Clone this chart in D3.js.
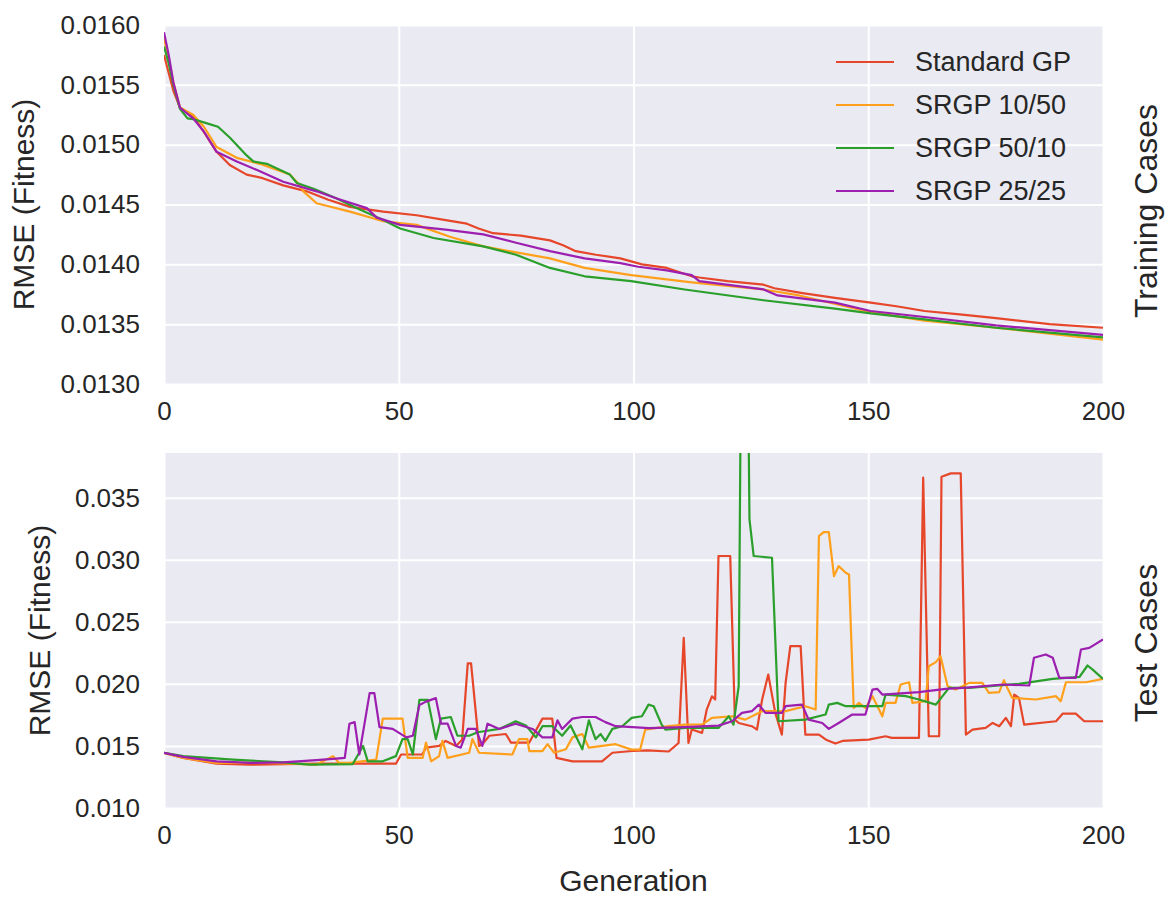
<!DOCTYPE html>
<html>
<head>
<meta charset="utf-8">
<script src="https://cdn.jsdelivr.net/npm/d3@7"></script>
<style>
  body { margin: 0; background: #fff; }
  svg text { font-family: "Liberation Sans", Arial, sans-serif; fill: #262626; }
</style>
</head>
<body>
<svg id="chart" width="1174" height="902"></svg>
<script>
// series, legend order
const seriesNames = ["Standard GP", "SRGP 10/50", "SRGP 50/10", "SRGP 25/25"];
const seriesColours = ["#e6462a", "#ffa01c", "#2b9f2b", "#9c1fb0"];

const generationTicks = [0, 50, 100, 150, 200];
const trainTicks = [0.0130, 0.0135, 0.0140, 0.0145, 0.0150, 0.0155, 0.0160];
const testTicks = [0.010, 0.015, 0.020, 0.025, 0.030, 0.035];

// training cases: [generation, rmse]
const trainStandard = [[0,0.01575],[1,0.01560],[2,0.01545],[3.4,0.01531],[6.2,0.01524],[8.4,0.01511],[11.2,0.01494],[14,0.01483],[17.6,0.01475],[21,0.01472],[25.4,0.01466],[30.4,0.01461],[35,0.01454],[39.6,0.01448],[46.7,0.01444],[53.8,0.01441],[60,0.01437],[64.5,0.01434],[67,0.01430],[70.1,0.01426],[76,0.01424],[82.2,0.01420],[85,0.01416],[87.7,0.01411],[92,0.01408],[97.2,0.01405],[101.8,0.01400],[107.1,0.01397],[112.4,0.01390],[114,0.01389],[120,0.01386],[127.7,0.01383],[130,0.01380],[136,0.01376],[142.9,0.01372],[150.5,0.01368],[156,0.01365],[162,0.01361],[170,0.01358],[177.2,0.01355],[188.6,0.01350],[200,0.01347]];
const trainSrgp1050 = [[0,0.01589],[1,0.01572],[2,0.01552],[3.4,0.01531],[6.2,0.01525],[8.5,0.01515],[11.2,0.01498],[15.5,0.01489],[20.4,0.01484],[26.8,0.01475],[28.5,0.01468],[29.7,0.01461],[32.5,0.01451],[39.6,0.01444],[46.7,0.01436],[53.8,0.01433],[60.9,0.01423],[68,0.01415],[75,0.01410],[82.2,0.01405],[89.6,0.01397],[99.5,0.01391],[112.4,0.01385],[127.7,0.01379],[135.3,0.01374],[150.5,0.01360],[162,0.01353],[177.2,0.01347],[200,0.01337]];
const trainSrgp5010 = [[0,0.01582],[1,0.01568],[2,0.01550],[3.4,0.01530],[5,0.01522],[6.5,0.01521],[9,0.01518],[11.5,0.01515],[14,0.01506],[17.6,0.01491],[19,0.01486],[21.9,0.01484],[26.8,0.01475],[28.3,0.01468],[32,0.01463],[36.8,0.01455],[41,0.01447],[46.7,0.01437],[50.3,0.01430],[57.4,0.01422],[68,0.01415],[75,0.01408],[82.2,0.01397],[89.6,0.01390],[99.5,0.01386],[110.9,0.01379],[127.7,0.01370],[142.9,0.01363],[150.5,0.01359],[162,0.01354],[177.2,0.01347],[200,0.01339]];
const trainSrgp2525 = [[0,0.01594],[1,0.01575],[2,0.01552],[3.4,0.01531],[6.2,0.01522],[8.5,0.01511],[11.2,0.01494],[15.5,0.01486],[19.7,0.01479],[25.4,0.01469],[32.5,0.01461],[36.8,0.01455],[43.2,0.01447],[45.3,0.01439],[50.3,0.01433],[60,0.01429],[68,0.01425],[75,0.01418],[82.2,0.01411],[89.6,0.01405],[97.2,0.01401],[101,0.01398],[107.1,0.01395],[112.4,0.01391],[114,0.01386],[127.7,0.01379],[130.7,0.01374],[142.9,0.01368],[150.5,0.01361],[162,0.01356],[177.2,0.01349],[200,0.01341]];

// test cases: [generation, rmse]
const testStandard = [[0,0.01445],[4.1,0.01404],[11.2,0.01357],[18.3,0.01349],[32.4,0.01357],[49.4,0.01357],[50.5,0.01431],[55,0.01431],[55.8,0.01486],[58.6,0.01500],[60,0.01540],[62.2,0.01500],[63.5,0.01550],[64.7,0.02165],[65.4,0.02165],[67.1,0.01500],[67.8,0.01514],[69.3,0.01582],[72.8,0.01596],[73.9,0.01527],[77.8,0.01527],[80.6,0.01720],[82.7,0.01720],[83.6,0.01404],[87,0.01376],[93.3,0.01376],[95.5,0.01445],[99.7,0.01459],[103,0.01465],[107.5,0.01455],[109.6,0.01524],[110.7,0.02371],[111.7,0.01524],[112.4,0.01632],[114.6,0.01605],[115.6,0.01793],[116.7,0.01900],[117.4,0.01874],[118.1,0.03030],[120.6,0.03030],[121.6,0.01712],[122.4,0.01685],[125.2,0.01659],[126.3,0.01632],[127.4,0.01874],[128.7,0.02075],[130.2,0.01766],[131.6,0.01591],[132.4,0.02008],[133.4,0.02304],[135.6,0.02304],[136.6,0.01591],[139.5,0.01591],[141,0.01550],[143,0.01519],[144.5,0.01540],[150.1,0.01551],[153.7,0.01578],[155,0.01565],[160.8,0.01565],[161.7,0.03661],[162.9,0.01578],[165.1,0.01578],[165.6,0.03669],[167.6,0.03696],[169.7,0.03696],[170.8,0.01591],[172.2,0.01632],[175,0.01645],[176.5,0.01685],[177.9,0.01659],[179.3,0.01726],[180.4,0.01659],[181.1,0.01914],[182.1,0.01887],[183.2,0.01672],[190,0.01699],[191.4,0.01760],[194.2,0.01760],[196,0.01699],[200,0.01699]];
const testSrgp1050 = [[0,0.01445],[4.1,0.01404],[11.2,0.01363],[21.8,0.01363],[32.4,0.01349],[36,0.01418],[37.3,0.01363],[39.5,0.01363],[45.2,0.01390],[46.6,0.01720],[50.8,0.01720],[51.9,0.01404],[55.1,0.01404],[55.8,0.01527],[56.9,0.01376],[58.6,0.01418],[59.3,0.01541],[60.4,0.01404],[65,0.01445],[65.7,0.01555],[67.1,0.01445],[74.2,0.01431],[75.6,0.01555],[77.4,0.01555],[77.8,0.01459],[80.6,0.01459],[81.7,0.01514],[83.1,0.01445],[85.6,0.01473],[87,0.01569],[89.1,0.01596],[90.5,0.01486],[96.2,0.01514],[99.6,0.01470],[101.4,0.01470],[102.5,0.01632],[107.5,0.01659],[111,0.01672],[114.6,0.01672],[116.7,0.01726],[121,0.01739],[123.8,0.01712],[127.4,0.01780],[132.4,0.01780],[136.6,0.01820],[138.8,0.01793],[139.5,0.03191],[140.5,0.03223],[141.6,0.03223],[142.7,0.02868],[143.7,0.02949],[145.2,0.02895],[145.9,0.02882],[146.9,0.01806],[148,0.01847],[149.4,0.01806],[150.9,0.01901],[153,0.01739],[153.7,0.01847],[155.8,0.01847],[156.9,0.01995],[158.7,0.02013],[159.4,0.01847],[162.2,0.01860],[162.9,0.02142],[164.4,0.02175],[165.4,0.02223],[166.9,0.01981],[168.6,0.01954],[171.5,0.02008],[174.3,0.02008],[175.7,0.01927],[177.9,0.01933],[178.9,0.02030],[179.6,0.01968],[180.7,0.01887],[185.7,0.01874],[190,0.01901],[191,0.01860],[192.1,0.02013],[196.4,0.02013],[200,0.02040]];
const testSrgp5010 = [[0,0.01445],[4.1,0.01418],[14.7,0.01390],[25.4,0.01368],[31,0.01349],[40.2,0.01354],[42.4,0.01500],[43.4,0.01376],[46.6,0.01376],[49.4,0.01418],[50.8,0.01555],[51.9,0.01555],[53,0.01431],[54.4,0.01871],[56.2,0.01871],[57.9,0.01555],[59,0.01720],[61.1,0.01733],[62.5,0.01582],[65,0.01582],[66.8,0.01610],[71.4,0.01637],[74.9,0.01698],[77.1,0.01665],[79.2,0.01569],[80.6,0.01659],[82.7,0.01659],[84.8,0.01582],[86.6,0.01665],[89.1,0.01473],[90.5,0.01706],[91.9,0.01555],[93,0.01596],[94,0.01541],[95.5,0.01637],[97.6,0.01659],[99.6,0.01726],[101.8,0.01739],[103.2,0.01833],[104.3,0.01820],[106,0.01672],[106.8,0.01632],[111,0.01645],[118.1,0.01645],[120.3,0.01739],[121.3,0.01672],[122.4,0.01981],[122.8,0.04100],[124.5,0.04100],[124.7,0.03325],[125.6,0.03030],[129.5,0.03016],[130.9,0.01699],[136.6,0.01712],[140.9,0.01753],[141.6,0.01833],[143.4,0.01847],[145.2,0.01820],[153,0.01820],[153.7,0.01914],[158,0.01901],[160.8,0.01874],[164.4,0.01833],[167.2,0.01968],[171.5,0.01968],[182.1,0.02000],[189.3,0.02040],[195,0.02056],[196.7,0.02148],[197.8,0.02115],[200,0.02040]];
const testSrgp2525 = [[0,0.01445],[4.1,0.01412],[11.2,0.01376],[18.3,0.01363],[25.4,0.01368],[32.4,0.01385],[36.7,0.01398],[38.5,0.01404],[39.5,0.01679],[40.6,0.01692],[41.6,0.01431],[43.8,0.01926],[44.8,0.01926],[45.9,0.01651],[48.7,0.01637],[51.6,0.01569],[53,0.01582],[54.4,0.01830],[55.8,0.01857],[57.9,0.01885],[59,0.01679],[60.4,0.01679],[62.2,0.01500],[63.2,0.01486],[64.7,0.01637],[66.4,0.01637],[67.8,0.01500],[68.9,0.01679],[71.4,0.01637],[74.9,0.01679],[78.5,0.01637],[80.6,0.01569],[82.7,0.01569],[83.8,0.01706],[84.8,0.01637],[87,0.01720],[89.1,0.01733],[91.9,0.01733],[94,0.01692],[96.2,0.01659],[103.3,0.01643],[111,0.01652],[118.1,0.01664],[121,0.01699],[123.1,0.01766],[125.2,0.01780],[126.7,0.01833],[128.1,0.01766],[131.6,0.01766],[132.4,0.01820],[135.9,0.01833],[137.3,0.01712],[140.2,0.01685],[141.6,0.01637],[143.7,0.01685],[146.6,0.01753],[149.4,0.01753],[150.9,0.01954],[151.9,0.01960],[153,0.01914],[160.8,0.01933],[166.5,0.01960],[171,0.01970],[178.6,0.01995],[184.3,0.01987],[185.3,0.02210],[187.8,0.02237],[189.3,0.02210],[190.7,0.02048],[194.2,0.02048],[195.3,0.02277],[197.1,0.02290],[200,0.02358]];

const svg = d3.select("#chart");
const plotLeft = 164, plotRight = 1103;

function drawPanel(cfg) {
    const g = svg.append("g");
    const x = d3.scaleLinear().domain([0, 200]).range([plotLeft, plotRight]);
    const y = d3.scaleLinear().domain(cfg.yDomain).range([cfg.bottom, cfg.top]);

    g.append("rect")
        .attr("x", plotLeft).attr("y", cfg.top)
        .attr("width", plotRight - plotLeft).attr("height", cfg.bottom - cfg.top)
        .attr("fill", "#eaeaf2");

    // white grid
    g.append("g")
        .attr("transform", `translate(0,${cfg.bottom})`)
        .call(d3.axisBottom(x).tickValues(generationTicks).tickSize(-(cfg.bottom - cfg.top)).tickFormat(""))
        .call(a => a.select(".domain").remove())
        .selectAll("line").attr("stroke", "#fff").attr("stroke-width", 2);
    g.append("g")
        .attr("transform", `translate(${plotLeft},0)`)
        .call(d3.axisLeft(y).tickValues(cfg.yTicks).tickSize(-(plotRight - plotLeft)).tickFormat(""))
        .call(a => a.select(".domain").remove())
        .selectAll("line").attr("stroke", "#fff").attr("stroke-width", 2);

    const clipId = "clip-" + cfg.name;
    svg.append("clipPath").attr("id", clipId)
        .append("rect")
        .attr("x", plotLeft).attr("y", cfg.top)
        .attr("width", plotRight - plotLeft).attr("height", cfg.bottom - cfg.top);

    const line = d3.line().x(d => x(d[0])).y(d => y(d[1]));
    g.append("g").attr("clip-path", `url(#${clipId})`)
        .selectAll("path")
        .data(cfg.series)
        .join("path")
            .attr("d", d => line(d))
            .attr("fill", "none")
            .attr("stroke", (d, i) => seriesColours[i])
            .attr("stroke-width", 2.2)
            .attr("stroke-linejoin", "round");

    // tick labels
    g.append("g")
        .attr("transform", `translate(0,${cfg.bottom})`)
        .call(d3.axisBottom(x).tickValues(generationTicks).tickSize(0).tickPadding(18))
        .call(a => a.select(".domain").remove())
        .selectAll("text").attr("font-size", 26).attr("fill", "#262626");
    g.append("g")
        .attr("transform", `translate(${plotLeft},0)`)
        .call(d3.axisLeft(y).tickValues(cfg.yTicks).tickSize(0).tickPadding(24).tickFormat(d3.format(cfg.yFormat)))
        .call(a => a.select(".domain").remove())
        .selectAll("text").attr("font-size", 26).attr("fill", "#262626");

    g.append("text")
        .attr("transform", `translate(${cfg.yLabelX},${(cfg.top + cfg.bottom) / 2}) rotate(-90)`)
        .attr("text-anchor", "middle")
        .attr("font-size", 30)
        .text("RMSE (Fitness)");

    g.append("text")
        .attr("transform", `translate(1157,${cfg.sideY}) rotate(-90)`)
        .attr("text-anchor", "middle")
        .attr("font-size", 32)
        .text(cfg.sideLabel);

    return g;
}

const trainPanel = drawPanel({
    name: "train", top: 25, bottom: 384,
    yDomain: [0.013, 0.016], yTicks: trainTicks, yFormat: ".4f",
    series: [trainStandard, trainSrgp1050, trainSrgp5010, trainSrgp2525],
    yLabelX: 34, sideLabel: "Training Cases", sideY: 211
});

drawPanel({
    name: "test", top: 453, bottom: 808,
    yDomain: [0.010, 0.0386], yTicks: testTicks, yFormat: ".3f",
    series: [testStandard, testSrgp1050, testSrgp5010, testSrgp2525],
    yLabelX: 50, sideLabel: "Test Cases", sideY: 643
});

svg.append("text")
    .attr("x", (plotLeft + plotRight) / 2).attr("y", 891)
    .attr("text-anchor", "middle")
    .attr("font-size", 30)
    .text("Generation");

// legend, no frame
const legend = trainPanel.append("g").attr("transform", "translate(836,62)");
const rows = legend.selectAll("g")
    .data(seriesNames)
    .join("g")
        .attr("transform", (d, i) => `translate(0,${i * 43})`);
rows.append("line")
    .attr("x1", 0).attr("x2", 58)
    .attr("stroke", (d, i) => seriesColours[i])
    .attr("stroke-width", 2.2);
rows.append("text")
    .attr("x", 79).attr("dy", "0.35em")
    .attr("font-size", 27)
    .text(d => d);
</script>
</body>
</html>
